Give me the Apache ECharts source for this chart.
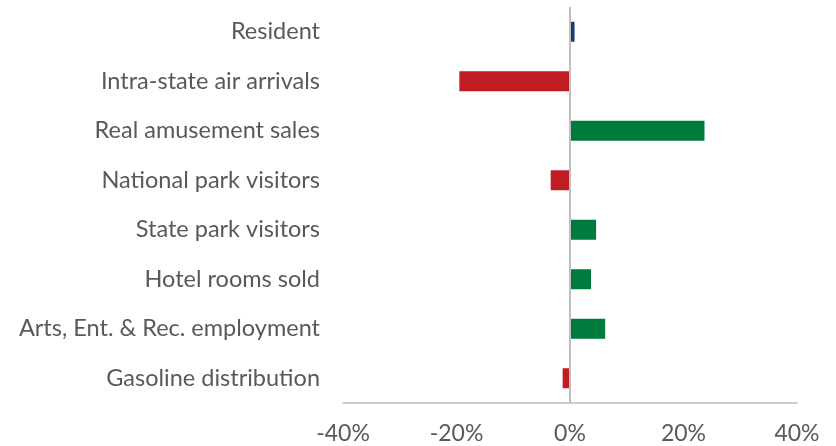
<!DOCTYPE html>
<html>
<head>
<meta charset="utf-8">
<script src="https://cdn.jsdelivr.net/npm/echarts@6/dist/echarts.min.js"></script>
<style>
html,body{margin:0;padding:0;background:#fff;}
#chart{width:836px;height:446px;}
</style>
</head>
<body>
<div id="chart"></div>
<script>
const categories = [
  "Resident",
  "Intra-state air arrivals",
  "Real amusement sales",
  "National park visitors",
  "State park visitors",
  "Hotel rooms sold",
  "Arts, Ent. & Rec. employment",
  "Gasoline distribution"
];
const values = [0.8, -19.5, 23.7, -3.4, 4.6, 3.7, 6.2, -1.3];
const xTicks = [-40, -20, 0, 20, 40];

const NAVY = "#1b3c6b", RED = "#c01c24", GREEN = "#007a3d";
function barColor(i, v) {
  if (i === 0) return NAVY;
  return v < 0 ? RED : GREEN;
}

const chart = echarts.init(document.getElementById('chart'), null, {renderer: 'canvas'});
chart.setOption({
  animation: false,
  backgroundColor: '#ffffff',
  textStyle: {fontFamily: 'Lato, "Noto Sans", sans-serif'},
  grid: {left: 343, right: 39, top: 7, bottom: 43, containLabel: false},
  xAxis: {
    type: 'value',
    min: xTicks[0],
    max: xTicks[xTicks.length - 1],
    interval: 20,
    axisLine: {show: true, lineStyle: {color: '#bfbfbf', width: 1.5}},
    axisTick: {show: false},
    splitLine: {show: false},
    axisLabel: {
      formatter: '{value}%',
      color: '#595959',
      fontSize: 23,
      margin: 19,
      fontFamily: 'Lato'
    }
  },
  yAxis: {
    type: 'category',
    data: categories,
    inverse: true,
    axisLine: {show: false},
    axisTick: {show: false},
    axisLabel: {
      color: '#595959',
      fontSize: 23.5,
      margin: 23,
      fontFamily: 'Lato'
    }
  },
  series: [{
    type: 'bar',
    barWidth: 20,
    data: values.map((v, i) => ({value: v, itemStyle: {color: barColor(i, v)}})),
    markLine: {
      silent: true,
      symbol: 'none',
      label: {show: false},
      lineStyle: {color: '#bfbfbf', width: 2, type: 'solid'},
      data: [{xAxis: 0}]
    }
  }]
});
</script>
</body>
</html>
